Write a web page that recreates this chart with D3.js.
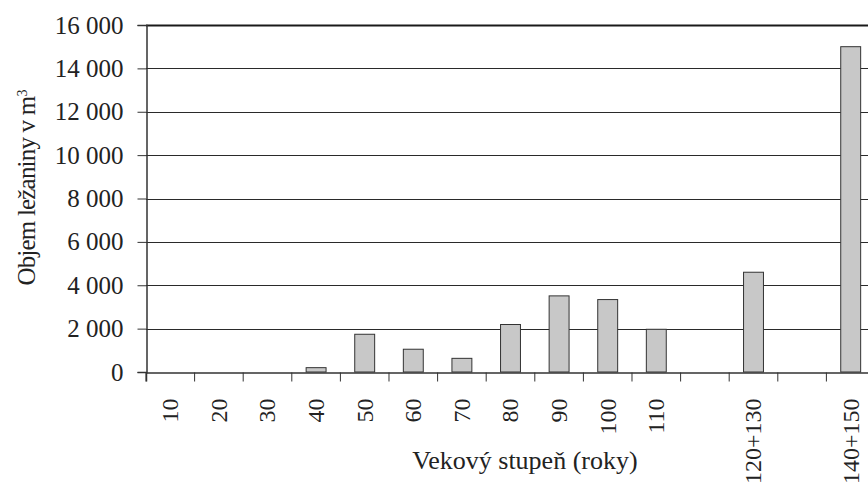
<!DOCTYPE html>
<meta charset="utf-8">
<title>Objem ležaniny</title>
<style>
body {
  margin: 0px;
  background: #fff;
}
svg text {
  font-family: "Liberation Serif", "DejaVu Serif", serif;
  fill: #222;
}
.grid line {
  stroke: #2a2a2a;
  stroke-width: 1;
}
.grid line.top {
  stroke: #1a1a1a;
  stroke-width: 2;
}
.bar {
  fill: #c8c8c8;
  stroke: #333;
  stroke-width: 1;
}
</style>
<script src="https://d3js.org/d3.v7.min.js"></script>
<body>
<script>
var width = 868, height = 493;

// categories (blank slots have no label)
var categories = ["10", "20", "30", "40", "50", "60", "70", "80", "90", "100", "110", "", "120+130", "", "140+150"];
var values = [0, 0, 0, 200, 1740, 1050, 630, 2190, 3510, 3340, 1970, 0, 4600, 0, 15000];
var yTicks = [0, 2000, 4000, 6000, 8000, 10000, 12000, 14000, 16000];

var margin = {top: 25, left: 146, bottom: 121};
var plotW = 48.6 * categories.length;

var svg = d3.select("body").append("svg")
    .attr("width", width)
    .attr("height", height);

var x = d3.scaleBand()
    .domain(d3.range(categories.length))
    .range([margin.left, margin.left + plotW])
    .padding(0);

var y = d3.scaleLinear()
    .domain([0, 16000])
    .range([height - margin.bottom, margin.top]);

var fmt = function(d) { return d3.format(",")(d).replace(/,/g, " "); };

// gridlines
svg.append("g")
    .attr("class", "grid")
  .selectAll("line")
    .data(yTicks.slice(1))
  .enter().append("line")
    .attr("class", function(d) { return d === 16000 ? "top" : null; })
    .attr("x1", margin.left)
    .attr("x2", margin.left + plotW)
    .attr("y1", function(d) { return Math.round(y(d)) + 0.5; })
    .attr("y2", function(d) { return Math.round(y(d)) + 0.5; });

// bars
var bw = x.bandwidth() * 0.41;
svg.append("g").selectAll("rect")
    .data(values.map(function(v, i) { return {i: i, v: v}; }).filter(function(d) { return d.v > 0; }))
  .enter().append("rect")
    .attr("class", "bar")
    .attr("x", function(d) { return x(d.i) + (x.bandwidth() - bw) / 2; })
    .attr("y", function(d) { return y(d.v); })
    .attr("width", bw)
    .attr("height", function(d) { return y(0) - y(d.v); });

// y axis
var yAxis = svg.append("g")
    .attr("transform", "translate(" + (margin.left + 0.5) + ",0)")
    .call(d3.axisLeft(y).tickValues(yTicks).tickFormat(fmt).tickSize(9).tickPadding(14));
yAxis.selectAll("text").style("font-size", "25px");

// x axis
var xAxis = svg.append("g")
    .attr("transform", "translate(0," + (y(0) + 0.5) + ")")
    .call(d3.axisBottom(x).tickSize(9).tickFormat(function(i) { return categories[i]; }));
xAxis.selectAll(".tick line")
    .attr("x1", -x.bandwidth() / 2)
    .attr("x2", -x.bandwidth() / 2);
xAxis.selectAll("text")
    .style("font-size", "24px")
    .attr("text-anchor", "end")
    .attr("transform", "rotate(-90)")
    .attr("x", -26)
    .attr("y", 0)
    .attr("dy", "0.33em");
svg.selectAll(".domain").attr("stroke", "#333").attr("stroke-width", 1.5);
svg.selectAll(".tick line").attr("stroke", "#333");

// axis titles
svg.append("text")
    .attr("x", 525)
    .attr("y", 469)
    .attr("text-anchor", "middle")
    .style("font-size", "26px")
    .text("Vekový stupeň (roky)");

var yt = svg.append("text")
    .attr("transform", "translate(35,188) rotate(-90)")
    .attr("text-anchor", "middle")
    .style("font-size", "25px")
    .style("letter-spacing", "-0.8px")
    .text("Objem ležaniny v m");
yt.append("tspan")
    .attr("dy", "-0.6em")
    .style("font-size", "14px")
    .text("3");
</script>
